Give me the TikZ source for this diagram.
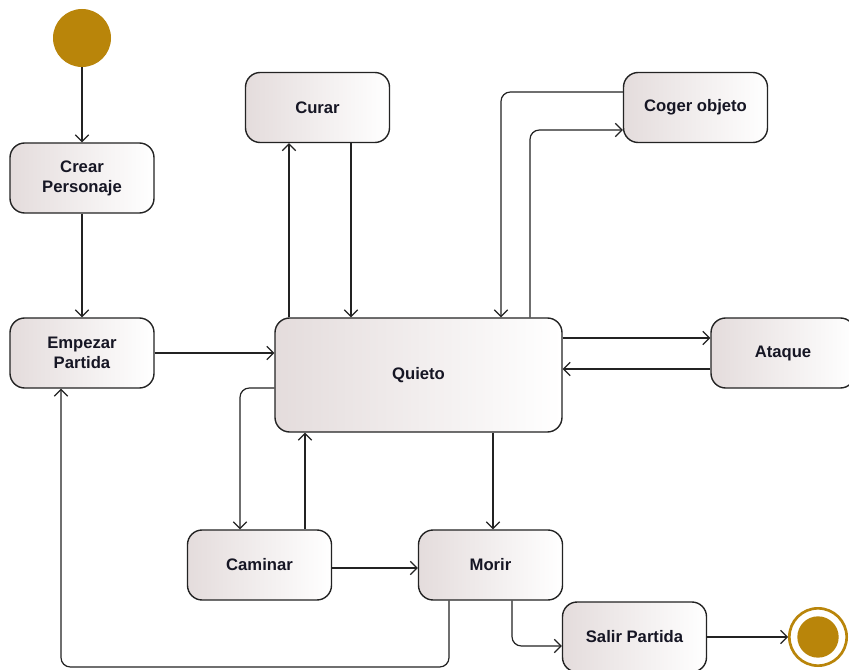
\documentclass[tikz,border=0pt]{standalone}
\usepackage{fontspec}
\setmainfont{Liberation Sans}
\usetikzlibrary{arrows.meta}
\definecolor{gold}{RGB}{185,133,10}
\definecolor{boxleft}{RGB}{228,220,220}
\definecolor{edge}{RGB}{35,35,35}
\definecolor{ink}{RGB}{22,22,36}
\tikzset{
  state/.style={rectangle, rounded corners=11pt, draw=edge, line width=1.05pt,
    left color=boxleft, right color=white, minimum width=108pt, minimum height=52.5pt,
    align=center, font=\bfseries\fontsize{12.5}{15}\selectfont, text=ink, inner sep=0pt},
  conn/.style={draw=edge, line width=0.9pt, rounded corners=7pt,
    -{Straight Barb[length=5pt,width=10pt,line width=0.9pt]}},
  plain/.style={draw=edge, line width=0.9pt, rounded corners=7pt}
}
\begin{document}
\begin{tikzpicture}[x=0.75pt,y=-0.75pt]
\useasboundingbox (0,0) rectangle (849,670);
\fill[white] (0,0) rectangle (849,670);

% initial and final pseudo-states
\node[circle, fill=gold, minimum size=43.5pt, inner sep=0pt] (ini) at (82,38) {};
\node[circle, draw=gold, line width=2pt, fill=white, minimum size=43pt, inner sep=0pt] (fin) at (818,637) {};
\node[circle, fill=gold, minimum size=31pt, inner sep=0pt] (finin) at (818,637) {};

% states
\node[state] (crear) at (82,178) {Crear\\Personaje};
\node[state] (emp) at (82,353) {Empezar\\Partida};
\node[state] (curar) at (317.5,107.5) {Curar};
\node[state] (coger) at (695.5,107.5) {Coger objeto};
\node[state, minimum width=215.25pt, minimum height=85.5pt] (q) at (418.5,375) {Quieto};
\node[state] (atq) at (783,353) {Ataque};
\node[state] (cam) at (259.5,565) {Caminar};
\node[state] (mor) at (490.5,565) {Morir};
\node[state] (sal) at (634.5,637) {Salir Partida};

% transitions
\draw[conn] (ini) -- (crear);
\draw[conn] (crear) -- (emp);
\draw[conn] (emp.east) -- (q.west |- emp.east);
\draw[conn] (q.north -| 289,0) -- (curar.south -| 289,0);
\draw[conn] (curar.south -| 351,0) -- (q.north -| 351,0);
\draw[conn] (coger.west |- 0,92) -- (501,92) -- (q.north -| 501,0);
\draw[conn] (q.north -| 530,0) -- (530,130) -- (coger.west |- 0,130);
\draw[conn] (q.east |- 0,338) -- (atq.west |- 0,338);
\draw[conn] (atq.west |- 0,369) -- (q.east |- 0,369);
\draw[conn] (q.west |- 0,388) -- (240,388) -- (cam.north -| 240,0);
\draw[conn] (cam.north -| 305,0) -- (q.south -| 305,0);
\draw[conn] (q.south -| 493,0) -- (mor.north -| 493,0);
\draw[conn] (cam.east |- 0,568) -- (mor.west |- 0,568);
\draw[conn] (mor.south -| 449,0) -- (449,667) -- (61,667) -- (emp.south -| 61,0);
\draw[conn] (mor.south -| 512,0) -- (512,646) -- (sal.west |- 0,646);
\draw[conn] (sal.east) -- (fin.west);
\end{tikzpicture}
\end{document}
